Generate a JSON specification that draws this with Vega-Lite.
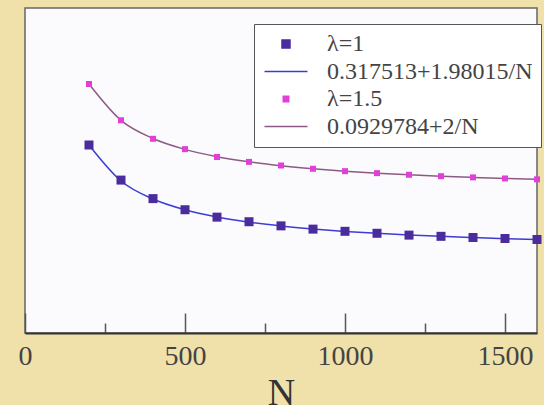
{
  "$schema": "https://vega.github.io/schema/vega-lite/v6.json",
  "autosize": {"type": "none"},
  "padding": {"left": 25, "top": 8, "right": 7, "bottom": 72},
  "width": 512,
  "height": 325,
  "background": "#f0e1aa",
  "config": {
    "view": {"fill": "#fbfbfe", "stroke": "#666666", "strokeWidth": 1.5},
    "font": "Liberation Serif"
  },
  "datasets": {
    "fit1": [
      {"N": 200, "y": 0.327414, "series": "0.317513+1.98015/N"},
      {"N": 300, "y": 0.324114, "series": "0.317513+1.98015/N"},
      {"N": 400, "y": 0.322463, "series": "0.317513+1.98015/N"},
      {"N": 500, "y": 0.321473, "series": "0.317513+1.98015/N"},
      {"N": 600, "y": 0.320813, "series": "0.317513+1.98015/N"},
      {"N": 700, "y": 0.320342, "series": "0.317513+1.98015/N"},
      {"N": 800, "y": 0.319988, "series": "0.317513+1.98015/N"},
      {"N": 900, "y": 0.319713, "series": "0.317513+1.98015/N"},
      {"N": 1000, "y": 0.319493, "series": "0.317513+1.98015/N"},
      {"N": 1100, "y": 0.319313, "series": "0.317513+1.98015/N"},
      {"N": 1200, "y": 0.319163, "series": "0.317513+1.98015/N"},
      {"N": 1300, "y": 0.319036, "series": "0.317513+1.98015/N"},
      {"N": 1400, "y": 0.318927, "series": "0.317513+1.98015/N"},
      {"N": 1500, "y": 0.318833, "series": "0.317513+1.98015/N"},
      {"N": 1600, "y": 0.318751, "series": "0.317513+1.98015/N"}
    ],
    "pts1": [
      {"N": 200, "y": 0.32742, "series": "λ=1"},
      {"N": 300, "y": 0.32420, "series": "λ=1"},
      {"N": 400, "y": 0.32250, "series": "λ=1"},
      {"N": 500, "y": 0.32148, "series": "λ=1"},
      {"N": 600, "y": 0.32080, "series": "λ=1"},
      {"N": 700, "y": 0.32038, "series": "λ=1"},
      {"N": 800, "y": 0.32000, "series": "λ=1"},
      {"N": 900, "y": 0.31970, "series": "λ=1"},
      {"N": 1000, "y": 0.31950, "series": "λ=1"},
      {"N": 1100, "y": 0.31932, "series": "λ=1"},
      {"N": 1200, "y": 0.31915, "series": "λ=1"},
      {"N": 1300, "y": 0.31904, "series": "λ=1"},
      {"N": 1400, "y": 0.31893, "series": "λ=1"},
      {"N": 1500, "y": 0.31884, "series": "λ=1"},
      {"N": 1600, "y": 0.31875, "series": "λ=1"}
    ],
    "fit2": [
      {"N": 200, "y": 0.102978, "series": "0.0929784+2/N"},
      {"N": 300, "y": 0.099645, "series": "0.0929784+2/N"},
      {"N": 400, "y": 0.097978, "series": "0.0929784+2/N"},
      {"N": 500, "y": 0.096978, "series": "0.0929784+2/N"},
      {"N": 600, "y": 0.096312, "series": "0.0929784+2/N"},
      {"N": 700, "y": 0.095836, "series": "0.0929784+2/N"},
      {"N": 800, "y": 0.095478, "series": "0.0929784+2/N"},
      {"N": 900, "y": 0.095201, "series": "0.0929784+2/N"},
      {"N": 1000, "y": 0.094978, "series": "0.0929784+2/N"},
      {"N": 1100, "y": 0.094797, "series": "0.0929784+2/N"},
      {"N": 1200, "y": 0.094645, "series": "0.0929784+2/N"},
      {"N": 1300, "y": 0.094517, "series": "0.0929784+2/N"},
      {"N": 1400, "y": 0.094407, "series": "0.0929784+2/N"},
      {"N": 1500, "y": 0.094312, "series": "0.0929784+2/N"},
      {"N": 1600, "y": 0.094228, "series": "0.0929784+2/N"}
    ],
    "pts2": [
      {"N": 200, "y": 0.10298, "series": "λ=1.5"},
      {"N": 300, "y": 0.09965, "series": "λ=1.5"},
      {"N": 400, "y": 0.09795, "series": "λ=1.5"},
      {"N": 500, "y": 0.09700, "series": "λ=1.5"},
      {"N": 600, "y": 0.09628, "series": "λ=1.5"},
      {"N": 700, "y": 0.09583, "series": "λ=1.5"},
      {"N": 800, "y": 0.09550, "series": "λ=1.5"},
      {"N": 900, "y": 0.09520, "series": "λ=1.5"},
      {"N": 1000, "y": 0.09498, "series": "λ=1.5"},
      {"N": 1100, "y": 0.09480, "series": "λ=1.5"},
      {"N": 1200, "y": 0.09465, "series": "λ=1.5"},
      {"N": 1300, "y": 0.09452, "series": "λ=1.5"},
      {"N": 1400, "y": 0.09441, "series": "λ=1.5"},
      {"N": 1500, "y": 0.09431, "series": "λ=1.5"},
      {"N": 1600, "y": 0.09423, "series": "λ=1.5"}
    ]
  },
  "encoding": {
    "x": {
      "field": "N",
      "type": "quantitative",
      "scale": {"domain": [0, 1600], "nice": false, "zero": false},
      "axis": {
        "title": "N",
        "values": [0, 250, 500, 750, 1000, 1250, 1500],
        "labelExpr": "datum.value % 500 === 0 ? datum.label : ''",
        "format": "d",
        "grid": false,
        "domainColor": "#333333",
        "domainWidth": 2,
        "tickColor": "#555555",
        "tickWidth": 1.5,
        "tickSize": {"condition": {"test": "datum.value % 500 === 0", "value": -20}, "value": -10},
        "labelFont": "Liberation Serif",
        "labelFontSize": 28,
        "labelColor": "#444444",
        "labelPadding": 29,
        "labelFlush": false,
        "labelOverlap": false,
        "titleFont": "Liberation Serif",
        "titleFontSize": 38,
        "titleFontWeight": "normal",
        "titleColor": "#333333",
        "titleY": 71,
        "titleBaseline": "alphabetic"
      }
    },
    "color": {
      "field": "series",
      "type": "nominal",
      "scale": {
        "domain": ["λ=1", "0.317513+1.98015/N", "λ=1.5", "0.0929784+2/N"],
        "range": ["#4a2c9e", "#3c3cd2", "#e040d8", "#8c5a84"]
      },
      "legend": {
        "title": null,
        "orient": "none",
        "legendX": 229,
        "legendY": 16,
        "fillColor": "#ffffff",
        "strokeColor": "#555555",
        "padding": 8,
        "rowPadding": 3.5,
        "labelFont": "Liberation Serif",
        "labelFontSize": 24,
        "labelColor": "#444444",
        "labelOffset": 19,
        "labelLimit": 400,
        "symbolStrokeWidth": 1.5,
        "encode": {
          "symbols": {
            "update": {
              "stroke": {"scale": "color", "field": "value"},
              "strokeWidth": {"value": 1.5},
              "x": {"value": 24},
              "size": {"signal": "datum.index % 2 === 1 ? 1849 : (datum.index === 0 ? 64 : 30)"}
            }
          },
          "labels": {
            "update": {
              "x": {"value": 65},
              "font": {"value": "Liberation Serif"},
              "fontSize": {"value": 24}
            }
          }
        }
      }
    },
    "shape": {
      "field": "series",
      "type": "nominal",
      "scale": {
        "domain": ["λ=1", "0.317513+1.98015/N", "λ=1.5", "0.0929784+2/N"],
        "range": ["square", "stroke", "square", "stroke"]
      },
      "legend": {
        "title": null,
        "orient": "none",
        "legendX": 229,
        "legendY": 16,
        "labelFont": "Liberation Serif",
        "labelFontSize": 24
      }
    }
  },
  "layer": [
    {
      "layer": [
        {
          "data": {"name": "fit1"},
          "mark": {"type": "line", "interpolate": "monotone", "strokeWidth": 1.5},
          "encoding": {
            "y": {"field": "y", "type": "quantitative", "scale": {"domain": [0.31017, 0.33999], "nice": false, "zero": false}, "axis": null}
          }
        },
        {
          "data": {"name": "pts1"},
          "mark": {"type": "point", "filled": true, "opacity": 1, "size": 81},
          "encoding": {
            "y": {"field": "y", "type": "quantitative", "scale": {"domain": [0.31017, 0.33999], "nice": false, "zero": false}, "axis": null}
          }
        }
      ]
    },
    {
      "layer": [
        {
          "data": {"name": "fit2"},
          "mark": {"type": "line", "interpolate": "monotone", "strokeWidth": 1.5},
          "encoding": {
            "y": {"field": "y", "type": "quantitative", "scale": {"domain": [0.080131, 0.109951], "nice": false, "zero": false}, "axis": null}
          }
        },
        {
          "data": {"name": "pts2"},
          "mark": {"type": "point", "filled": true, "opacity": 1, "size": 36},
          "encoding": {
            "y": {"field": "y", "type": "quantitative", "scale": {"domain": [0.080131, 0.109951], "nice": false, "zero": false}, "axis": null}
          }
        }
      ]
    }
  ],
  "resolve": {"scale": {"y": "independent"}, "axis": {"y": "independent"}}
}
